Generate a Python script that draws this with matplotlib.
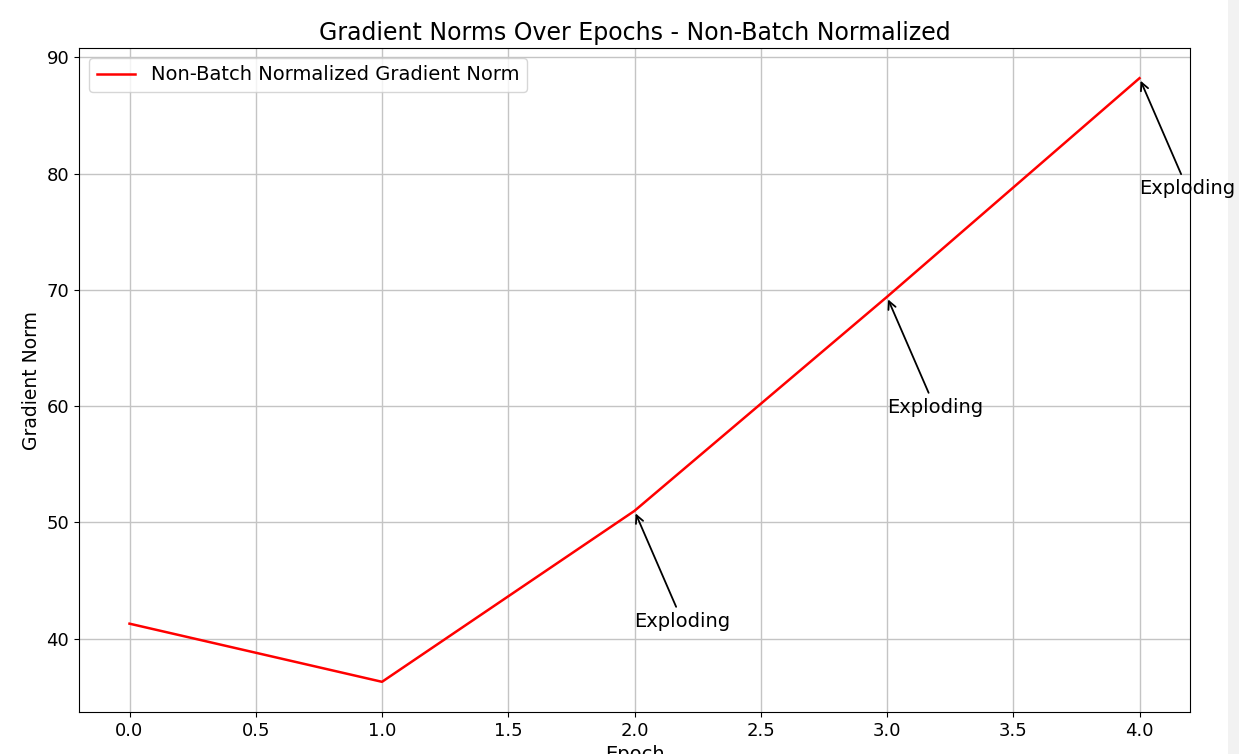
import matplotlib
matplotlib.use('Agg')
import matplotlib.pyplot as plt
from matplotlib.patches import Rectangle
import numpy as np

# 数据
epochs = [0, 1, 2, 3, 4]
grad_norms = [41.3, 36.3, 51.0, 69.4, 88.2]
exploding_epochs = [2, 3, 4]
label_text = 'Exploding'

fig = plt.figure(figsize=(12.39, 7.54), dpi=100)
ax = fig.add_axes([79/1239, 1-712/754, (1190-79)/1239, (712-48)/754])

ax.plot(epochs, grad_norms, color='red', lw=1.8, label='Non-Batch Normalized Gradient Norm')
for e in exploding_epochs:
    g = grad_norms[epochs.index(e)]
    ax.annotate(label_text, xy=(e, g), xytext=(e, g - 10),
                fontsize=14, annotation_clip=False,
                arrowprops=dict(arrowstyle='->', color='black', lw=1.3))

ax.set_title('Gradient Norms Over Epochs - Non-Batch Normalized', fontsize=17, pad=6)
ax.set_xlabel('Epoch', fontsize=14)
ax.set_ylabel('Gradient Norm', fontsize=13.5)
ax.tick_params(labelsize=13)
ax.grid(True, color='#c4c4c4', lw=1.0)
ax.legend(loc='upper left', fontsize=14)

# 右侧灰色边条
fig.patches.append(Rectangle((1228/1239, 0), 11/1239, 1, transform=fig.transFigure,
                             facecolor='#f2f2f2', edgecolor='none', zorder=-1))

fig.savefig('out.png', dpi=100)
